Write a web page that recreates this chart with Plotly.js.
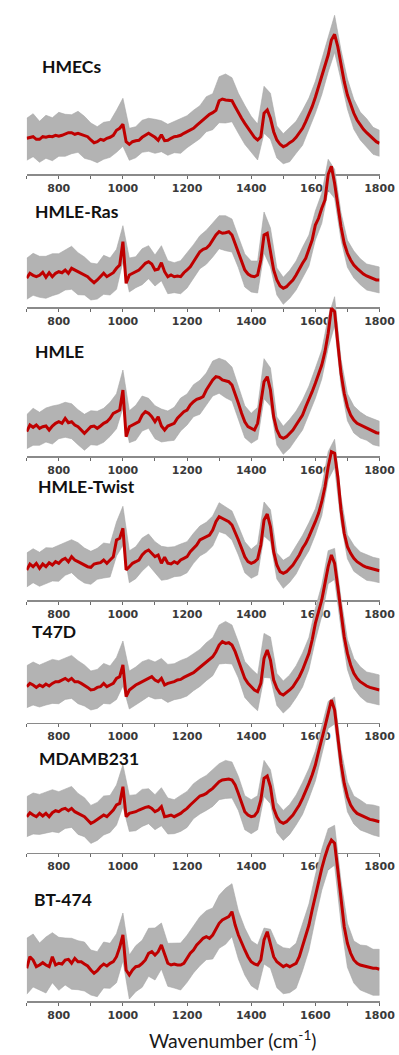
<!DOCTYPE html>
<html>
<head>
<meta charset="utf-8">
<script src="https://cdn.plot.ly/plotly-3.0.1.min.js"></script>
<style>
html,body{margin:0;padding:0;background:#ffffff;}
#chart{width:399px;height:1055px;}
</style>
</head>
<body>
<div id="chart"></div>
<script>
// ---------------- DATA ----------------
// Raman shift grid (cm^-1) for the mean spectra
const wavenumber = [700,710,720,730,740,750,760,770,780,790,800,810,820,830,840,850,860,870,880,890,
900,910,920,930,940,950,960,970,980,990,1000,1010,1020,1030,1040,1050,1060,1070,1080,1090,
1100,1110,1120,1130,1140,1150,1160,1170,1180,1190,1200,1210,1220,1230,1240,1250,1260,1270,1280,1290,
1300,1310,1320,1330,1340,1350,1360,1370,1380,1390,1400,1410,1420,1430,1440,1450,1460,1470,1480,1490,
1500,1510,1520,1530,1540,1550,1560,1570,1580,1590,1600,1610,1620,1630,1640,1650,1660,1670,1680,1690,
1700,1710,1720,1730,1740,1750,1760,1770,1780,1790,1800];

// coarser grid for the spread (grey band) of individual spectra
const wavenumberBand = [700,720,740,760,780,800,820,840,860,880,900,920,940,960,980,1000,
1020,1040,1060,1080,1100,1120,1140,1160,1180,1200,1220,1240,1260,1280,1300,1320,1340,
1360,1380,1400,1420,1440,1460,1480,1500,1520,1540,1560,1580,1600,1620,1640,1660,1680,
1700,1720,1740,1760,1780,1800];

const sampleNames = ['HMECs','HMLE-Ras','HMLE','HMLE-Twist','T47D','MDAMB231','BT-474'];

// mean intensity (a.u.)
const meanHMECs = [36,37,37.6,35,35,37.6,37,38,37.6,39,38,39,40,41.6,41.6,40,41,39.6,39,37.6,
34.3,31.6,32.6,35,34,36,37,39,44,46,50,32.6,30,32.6,33.6,34,37,39,41,39,
37,34,39.6,33.6,34,36,37.6,38,39,41,42.6,43.6,46,49,51.6,55,57.6,60,61.6,64,
73.6,75.3,74.3,74.3,73.6,67.6,61,56,51,46,41,37,34.3,37.6,61,64.3,56,42.6,34.3,30,
27.6,29,31.6,33.6,37,41,46,52.6,59.3,67.6,77,87,97.6,107.6,119.3,134.3,140,127.6,109.3,92.6,
79.3,69.3,61,54.3,49.3,45,41.6,38.3,35,32.6,31];

const meanHMLERas = [29,34,32,30.6,32,35,30,34.6,30.6,34,35.6,34.6,37.3,34,39,37.3,35.6,34,32.3,30.6,
27.3,24.6,27.3,30.6,34,30.6,32.3,34.6,39,42.3,65.6,24,32.3,34,35.6,37.3,40.6,44,45.6,43.3,
37.3,38,44.6,35.6,30.6,32.3,30.6,31.3,30.6,34.6,37.3,40.6,45.6,50.6,55.6,58,59,62.3,67.3,72.3,
75.6,74,74.6,75.6,72.3,64,55.6,45.6,37.3,33.3,31.3,30.6,32.3,47.3,72.3,74,57.3,37.3,27.3,21.3,
19,20.6,24,27.3,32.3,39,44,49,57.3,67.3,82.3,89,99,107.3,133,141,124,100.6,80.6,64,
54,47.3,42.3,39,35.6,33.3,31.3,30,29,27.3,27.3];

const meanHMLE = [24.3,31,28.7,31,27.7,29.3,30,26,30,32.7,34.3,32.7,37.7,33.3,34.3,31,29.3,26,22.7,26,
29.3,30,27.7,30,32.7,34.3,37.7,42.7,44.3,46,66,19.3,29.3,31,32.7,34.3,41,44.3,42.7,39.3,
34.3,39.3,30,26,30,31,32.7,37.7,41,44.3,46,51,54.3,56.7,57.7,59.3,66,71,76,79.3,
78.7,76,75.3,74.3,71,62.7,52.7,42.7,34.3,29.3,27.7,26,32.7,56,74.3,79.3,66,39.3,26,19.3,
17.7,19.3,22.7,26,31,36,41,49.3,56,64.3,72.7,81,91,104.3,122.7,147.7,144.3,112.7,82.7,62.7,
49.3,41,36,32.7,31,29.3,27.7,26,24.3,23.3,22.7];

const meanHMLETwist = [30,36,33.3,36.7,31.7,36,33.3,37.3,35,38.3,36.7,40,41.7,38.3,43.3,40,38.3,36.7,35,33.3,
32.7,36,36.7,37.3,40,36.7,40,43.3,60,61.7,71.7,30,33.3,36.7,38.3,40,45,48.3,50,46.7,
43.3,45,36.7,42.7,36.7,36,38.3,36.7,40,41.7,43.3,48.3,51.7,55,60,61.7,62.7,65,70,78.3,
83.3,81.7,80,78.3,75,68.3,60,51.7,43.3,38.3,36.7,38,41,55,80,86,73.3,48.3,35,28.3,
26.7,28.3,31.7,35,40,45,51.7,56.7,63.3,70,78.3,86.7,98.3,113.3,133.3,148.3,146.7,123.3,90,66.7,
53.3,46.7,41.7,38.3,36,34,32.7,31.7,30.7,30,29.3];

const meanT47D = [36,39.3,37.7,35.3,37.7,36,38.7,36.7,39.3,41,41,42.7,44.3,42,44.3,41,41,39.3,37.7,35.3,
32.7,33.3,35.3,36,39.3,36,37.7,39.3,44.3,46,57.7,26,32.7,35.3,37.7,39.3,41,42.7,44.3,46,
42.7,41,44.3,37.7,39.3,40,41,42.7,43.3,45.3,46.7,48.7,50,52.7,55.3,57.7,60,62.7,66,71,
77.7,81,79.3,80,77.7,71,62.7,52.7,44.3,39.3,36,32.7,31,39.3,64.3,72.7,62.7,42.7,34.3,29.3,
27.7,30,32.7,36,41,46,52.7,61,69.3,82.7,99.3,111,122.7,139.3,156,167.7,159.3,136,109.3,86,
69.3,57.7,49.3,44.3,41,38.7,36.7,35.3,34.3,33.3,32.7];

const meanMDAMB231 = [36,40,37.7,36,39.3,36.7,39.3,36,40,42,41,43.3,44.3,42,44.3,41,39.3,37.7,36,32.7,
29.3,31,33.3,36,37.7,36,39.3,42.7,47.7,49.3,66,36,39.3,40,41,42.7,44.3,45.3,46,44.3,
41,42.7,46,36,36.7,37.7,36,37.7,39.3,42,44.3,47.7,51,54.3,56.7,57.7,59.3,62,64.3,67.7,
71,72.7,73.3,73.7,72.7,67.7,59.3,49.3,41,37.7,36,36.7,41,52.7,74.3,76.7,66,44.3,36,31,
29.3,31,34.3,37.7,42.7,47.7,54.3,61,69.3,77.7,87.7,101,112.7,126,139.3,152.7,142.7,116,89.3,69.3,
56,47.7,42.7,39.3,37.7,36,34.3,33.3,32.7,32,31];

const meanBT474 = [32.7,44.3,41,34.3,36,38.3,36,34.3,44.3,36,37.7,37,41,41.7,37.7,42.7,39.3,39.3,37,35,
31,27.7,30.3,34.3,37,35,37.7,39.3,44.3,53.7,66,31,26,31,34.3,35,37.7,41,47.7,49.3,
46,49.3,56,47.7,37.7,36,37,36,36,37.7,42.7,47.7,51,56,59.3,62.7,64.3,62.7,66,72.7,
77.7,81,82.7,84.3,89.3,76,66,57.7,51,44.3,39.3,37,36,41,61,69.3,57.7,44.3,39.3,37,
34.3,36,34.3,36,37.7,44.3,54.3,64.3,76,91,106,119.3,132.7,144.3,154.3,161,157.7,131,101,74.3,
57.7,47.7,41,37.7,36,35,34.3,33.7,32.7,32.7,31.7];

// spread of the individual spectra above / below the mean (a.u.), on wavenumberBand
const upHMECs = [20,23,18,22,19,24,20,18,22,19, 17,15,18,16,20, 26, 16,14,17,15,18,14,16,15,17,16,
18,17,20,19, 24,26,23, 20,18,17,16, 27,25, 14,13,15, 16,18,17,16, 17,18,19, 15,16,14, 13,14,12,13];
const downHMECs = [22,20,23,21,24,20,22,21,19,23, 20,21,19,20,22, 22, 16,17,15,18,16,17,15,16,18,16,
15,16,15,17, 22,23,21, 20,21,19,20, 20,21, 18,17,19, 16,17,15,16, 18,17,18, 15,14,16, 15,14,15,13];

const upHMLERas = [20,22,19,21,23,18,20,22,19,18, 17,16,18,17,19, 16, 17,15,18,16,15,17,16,14,16,17,
17,16,18,17, 16,17,16, 15,16,15,14, 23,22, 12,11,13, 14,16,15,14, 15,15,14, 14,13,14, 13,12,13,13];
const downHMLERas = [21,20,22,21,19,22,20,21,23,20, 20,19,21,20,21, 20, 17,16,18,17,16,18,17,16,17,18,
16,17,16,17, 17,18,17, 16,17,16,18, 18,17, 15,16,15, 15,14,16,15, 15,16,15, 13,14,13, 13,14,13,13];

const upHMLE = [17,19,16,18,20,17,16,18,17,19, 16,17,15,16,18, 20, 16,18,19,15,16,17,15,16,17,16,
17,18,17,19, 19,20,18, 17,16,15,16, 23,22, 13,12,14, 14,15,14,15, 15,16,15, 14,13,14, 13,12,13,12];
const downHMLE = [17,18,17,16,18,17,19,17,18,17, 18,17,19,18,17, 18, 16,17,16,15,17,16,15,17,16,15,
15,16,15,16, 16,17,16, 15,16,15,16, 17,16, 15,16,15, 14,15,14,15, 14,15,14, 13,14,13, 13,12,13,13];

const upHMLETwist = [17,18,16,19,17,18,16,17,19,17, 16,15,17,16,18, 22, 16,15,17,16,15,17,16,15,16,15,
15,14,15,14, 14,13,14, 14,15,14,15, 18,17, 12,13,12, 14,13,14,13, 15,15,14, 13,12,13, 12,13,12,12];
const downHMLETwist = [17,16,18,17,16,18,17,16,17,18, 17,16,18,17,16, 17, 16,17,16,15,16,17,16,15,16,16,
15,16,15,16, 15,14,15, 15,16,15,16, 16,15, 14,15,14, 14,13,14,13, 14,13,14, 13,12,13, 12,13,12,12];

const upT47D = [21,23,20,22,24,21,20,23,21,20, 19,18,20,19,21, 24, 19,18,20,19,18,20,19,18,19,18,
19,18,20,19, 20,22,20, 18,17,18,17, 25,23, 15,14,15, 16,17,16,15, 15,16,15, 15,14,15, 15,14,15,15];
const downT47D = [21,20,22,21,20,22,21,20,22,21, 20,21,20,19,21, 21, 19,20,19,18,19,20,19,18,19,20,
18,19,18,19, 19,20,19, 18,19,18,19, 19,18, 17,18,17, 16,17,16,17, 16,17,16, 15,16,15, 15,16,15,15];

const upMDAMB231 = [20,22,19,21,23,20,19,22,20,19, 18,17,19,18,20, 22, 18,17,19,18,17,19,18,17,18,17,
18,17,18,19, 18,19,18, 17,16,17,16, 18,17, 14,13,14, 15,16,15,14, 13,12,13, 14,15,14, 15,14,15,15];
const downMDAMB231 = [20,19,21,20,19,21,20,19,21,20, 20,21,20,19,20, 20, 18,19,18,17,18,19,18,17,18,19,
17,18,17,18, 18,19,18, 17,18,17,18, 18,17, 16,17,16, 15,16,15,16, 14,15,14, 14,15,14, 15,14,15,15];

const upBT474 = [30,26,22,28,24,26,22,25,21,22, 20,19,22,20,23, 22, 20,21,23,25,27,22,20,21,22,23,
24,25,26,27, 28,30,28, 24,22,21,20, 12,14, 18,19,18, 20,22,21,20, 19,18,18, 19,20,19, 20,21,19,20];
const downBT474 = [26,27,25,28,26,27,25,26,28,27, 25,26,24,25,26, 26, 24,25,24,23,25,24,23,24,25,24,
23,24,23,24, 25,26,25, 24,25,24,25, 24,25, 26,27,26, 25,24,25,24, 22,23,22, 23,24,23, 25,26,27,26];

const meanSeries = [meanHMECs, meanHMLERas, meanHMLE, meanHMLETwist, meanT47D, meanMDAMB231, meanBT474];
const upSeries = [upHMECs, upHMLERas, upHMLE, upHMLETwist, upT47D, upMDAMB231, upBT474];
const downSeries = [downHMECs, downHMLERas, downHMLE, downHMLETwist, downT47D, downMDAMB231, downBT474];

// ---------------- LAYOUT ----------------
const W = 399, H = 1055;
const axisPix = [174.3, 307.3, 456, 600, 722.7, 852.7, 1001];   // baseline pixel row of each panel
const labelPos = [[40, 66.7], [33, 211.7], [33, 351.7], [36, 486.7], [30, 631.7], [37.3, 758.3], [32.3, 899.3]];
const xDomain = [26.7 / W, 379.5 / W];

const traces = [];
const layout = {
  width: W, height: H,
  margin: {l: 0, r: 0, t: 0, b: 0, pad: 0},
  paper_bgcolor: '#ffffff', plot_bgcolor: 'rgba(0,0,0,0)',
  showlegend: false,
  annotations: []
};

sampleNames.forEach((name, k) => {
  const xs = k === 0 ? 'x' : 'x' + (k + 1);
  const ys = k === 0 ? 'y' : 'y' + (k + 1);
  const xKey = k === 0 ? 'xaxis' : 'xaxis' + (k + 1);
  const yKey = k === 0 ? 'yaxis' : 'yaxis' + (k + 1);
  const mean = meanSeries[k];
  const idx = wavenumberBand.map(w => wavenumber.indexOf(w));
  const upper = idx.map((j, i) => mean[j] + upSeries[k][i]);
  const lower = idx.map((j, i) => mean[j] - downSeries[k][i]);

  traces.push({
    type: 'scatter', mode: 'lines',
    x: wavenumberBand.concat(wavenumberBand.slice().reverse()),
    y: upper.concat(lower.slice().reverse()),
    fill: 'toself', fillcolor: '#b3b3b3',
    line: {width: 0.6, color: '#a8a8a8'},
    xaxis: xs, yaxis: ys, hoverinfo: 'skip'
  });
  traces.push({
    type: 'scatter', mode: 'lines',
    x: wavenumber, y: mean,
    line: {color: '#bf0000', width: 3},
    xaxis: xs, yaxis: ys, name: name
  });

  const xa = {
    domain: xDomain, range: [700, 1800],
    anchor: 'free', position: (H - axisPix[k]) / H,
    showline: true, linecolor: '#8a8a8a', linewidth: 1.5,
    ticks: 'outside', ticklen: 3, tickwidth: 1, tickcolor: '#6a6a6a',
    tick0: 0, dtick: 200,
    minor: {dtick: 100, ticks: 'outside', ticklen: 3, tickwidth: 1, tickcolor: '#6a6a6a'},
    tickfont: {family: 'DejaVu Sans', size: 11, color: '#3a3a3a', weight: 'bold'},
    showgrid: false, zeroline: false, layer: 'below traces', fixedrange: true
  };
  if (k > 0) xa.overlaying = 'x';
  layout[xKey] = xa;

  const ya = {
    domain: [0, 1], range: [axisPix[k] - H, axisPix[k]],
    anchor: xs, visible: false, showgrid: false, zeroline: false, fixedrange: true
  };
  if (k > 0) ya.overlaying = 'y';
  layout[yKey] = ya;

  layout.annotations.push({
    xref: 'paper', yref: 'paper',
    x: labelPos[k][0] / W, y: 1 - labelPos[k][1] / H,
    xanchor: 'left', yanchor: 'middle', showarrow: false,
    text: '<b>' + name + '</b>',
    font: {family: 'Lato', size: 17.5, color: '#111111'}
  });
});

layout.annotations.push({
  xref: 'paper', yref: 'paper',
  x: 232.5 / W, y: 1 - 1039.7 / H,
  xanchor: 'center', yanchor: 'middle', showarrow: false,
  text: 'Wavenumber (cm<sup>-1</sup>)',
  font: {family: 'Lato', size: 19.5, color: '#1a1a1a'}
});

Plotly.newPlot('chart', traces, layout, {staticPlot: true, displayModeBar: false});
</script>
</body>
</html>
